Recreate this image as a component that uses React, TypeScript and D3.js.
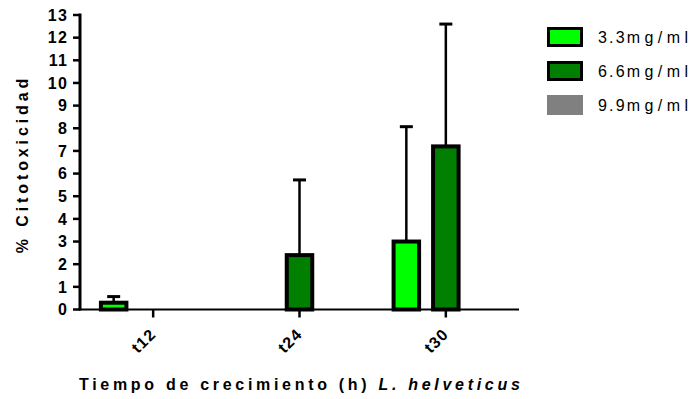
import React from "react";
import * as d3 from "d3";

// Sampling times and dose series
const categories = ["t12", "t24", "t30"];
const series = ["3.3mg/ml", "6.6mg/ml", "9.9mg/ml"];
const seriesColors = ["#00FF00", "#007F00", "#808080"];

// Mean % cytotoxicity per series (rows) and time (columns)
const means33 = [0.3, 0, 3.0];
const means66 = [0, 2.4, 7.2];
const means99 = [0, 0, 0];
// Upper error (SD) per series and time
const sd33 = [0.27, 0, 5.07];
const sd66 = [0, 3.32, 5.4];
const sd99 = [0, 0, 0];

const yTicks = d3.range(0, 14);

const W = 696;
const H = 399;
const FONT = "'Liberation Sans', Arial, sans-serif";

export default function App() {
  const x0 = d3.scaleBand<string>().domain(categories).range([80, 519]).padding(0);
  const x1 = d3.scalePoint<string>().domain(series).range([-39.5, 39.5]);
  const y = d3.scaleLinear().domain([0, 13]).range([309.5, 15]);
  const barW = 25.5;

  const means = [means33, means66, means99];
  const sds = [sd33, sd66, sd99];

  const bars: { key: string; cx: number; v: number; sd: number; color: string }[] = [];
  categories.forEach((c, ci) => {
    series.forEach((s, si) => {
      const v = means[si][ci];
      if (v <= 0) return;
      bars.push({
        key: c + s,
        cx: (x0(c) ?? 0) + x0.bandwidth() / 2 + (x1(s) ?? 0),
        v,
        sd: sds[si][ci],
        color: seriesColors[si],
      });
    });
  });

  return (
    <svg width={W} height={H} style={{ display: "block", position: "absolute", left: 0, top: 0 }} fontFamily={FONT}>
      <rect width={W} height={H} fill="#fff" />

      {/* error bars (upper only) */}
      {bars.map((b) => (
        <g key={"e" + b.key} stroke="#000">
          <line x1={b.cx} x2={b.cx} y1={y(b.v)} y2={y(b.v + b.sd)} strokeWidth={2.5} />
          <line x1={b.cx - 6.5} x2={b.cx + 6.5} y1={y(b.v + b.sd)} y2={y(b.v + b.sd)} strokeWidth={3} />
        </g>
      ))}

      {/* bars */}
      {bars.map((b) => (
        <rect
          key={"b" + b.key}
          x={b.cx - barW / 2}
          y={y(b.v)}
          width={barW}
          height={y(0) - y(b.v)}
          fill={b.color}
          stroke="#000"
          strokeWidth={4}
        />
      ))}

      {/* y axis */}
      <line x1={80} x2={80} y1={y(13) - 1.5} y2={y(0) + 1} stroke="#000" strokeWidth={3} />
      {yTicks.map((t) => (
        <g key={"yt" + t}>
          <line x1={73} x2={80} y1={y(t)} y2={y(t)} stroke="#000" strokeWidth={2.5} />
          <text
            x={68}
            y={y(t)}
            dy="0.36em"
            textAnchor="end"
            fontSize={16}
            fontWeight="bold"
            letterSpacing={1.2}
            fill="#000"
          >
            {t}
          </text>
        </g>
      ))}

      {/* x axis */}
      <line x1={79} x2={519} y1={y(0)} y2={y(0)} stroke="#000" strokeWidth={2} />
      {categories.map((c) => {
        const cx = (x0(c) ?? 0) + x0.bandwidth() / 2;
        return (
          <g key={"xt" + c}>
            <line x1={cx} x2={cx} y1={y(0)} y2={y(0) + 8} stroke="#000" strokeWidth={2.5} />
            <text
              transform={`translate(${cx + 4},${335}) rotate(-45)`}
              textAnchor="end"
              fontSize={16}
              fontWeight="bold"
              letterSpacing={1.3}
              fill="#000"
            >
              {c}
            </text>
          </g>
        );
      })}

      {/* axis titles */}
      <text x={79} y={390} fontSize={16} fontWeight="bold" letterSpacing={3.7} fill="#000">
        <tspan>Tiempo de crecimiento (h) </tspan>
        <tspan fontStyle="italic">L. helveticus</tspan>
      </text>
      <text
        transform="translate(28,164) rotate(-90)"
        textAnchor="middle"
        fontSize={16}
        fontWeight="bold"
        letterSpacing={3.9}
        fill="#000"
      >
        % Citotoxicidad
      </text>

      {/* legend */}
      {series.map((s, i) => {
        const top = 27 + i * 34;
        const num = s.slice(0, 3);
        const unit = s.slice(3);
        return (
          <g key={"lg" + s}>
            {i < 2 ? (
              <rect x={548.5} y={top + 1.5} width={33} height={17} fill={seriesColors[i]} stroke="#000" strokeWidth={3} />
            ) : (
              <rect x={547} y={top} width={36} height={20} fill={seriesColors[i]} />
            )}
            <text x={598} y={top + 16} fontSize={16} fill="#000">
              <tspan letterSpacing={2.2}>{num}</tspan>
              <tspan letterSpacing={4.4}>{unit}</tspan>
            </text>
          </g>
        );
      })}
    </svg>
  );
}
